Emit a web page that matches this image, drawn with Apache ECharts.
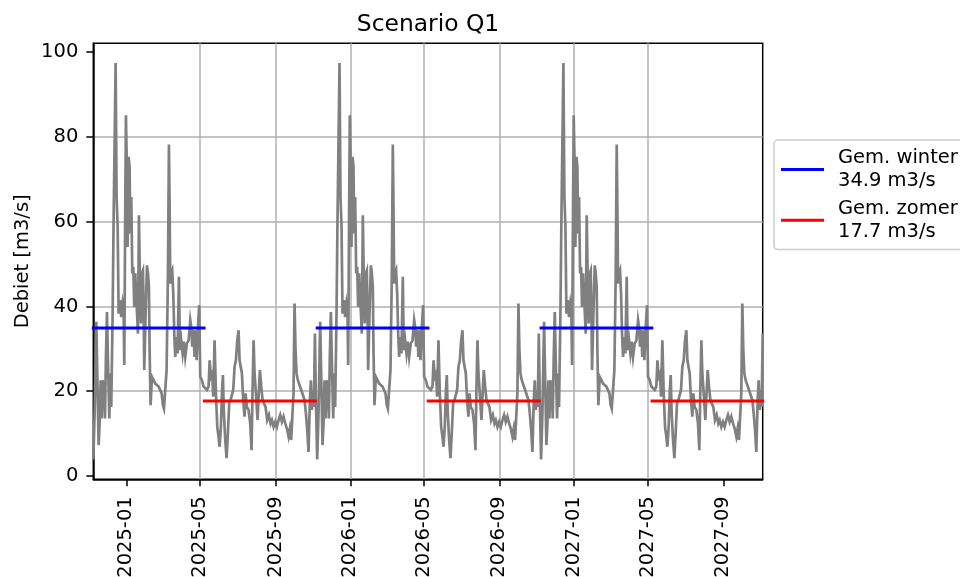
<!DOCTYPE html>
<html>
<head>
<meta charset="utf-8">
<script src="https://cdn.jsdelivr.net/npm/echarts@6/dist/echarts.min.js"></script>
<style>
html,body{margin:0;padding:0;background:#ffffff;}
#chart{width:960px;height:577px;}
</style>
</head>
<body>
<div id="chart"></div>
<script>
// ---------------- data ----------------
const chartTitle = 'Scenario Q1';
const yAxisTitle = 'Debiet [m3/s]';
const recordStart = '2024-11-08';      // first day of the record
const recordLengthDays = 1091.3;       // record length in days
const yearsInRecord = 3;

// one scenario year (repeated each year of the record): day offset and discharge [m3/s]
const dayOffset = [0,2.2,4.9,6.5,8.7,10.3,12,13.6,15.2,17.4,
  19,20.6,22.3,23.9,26.1,27.7,29.3,31.5,33.1,34.8,
  36.4,38,39.7,41.3,43.5,45.6,47.8,49.4,50.5,52.1,
  53.2,54.9,55.9,57.6,59.2,60.3,61.9,63.6,65.2,66.8,
  68.4,70.6,72.8,74.4,76,77.7,79.3,80.9,82,83.1,
  85.3,87.5,89.1,90.7,91.8,93.4,95.6,98.3,101,103.7,
  106.5,109.2,111.4,113.5,115.2,117.3,119.5,121.7,123.3,124.4,
  125.5,127.1,128.7,130.4,132,133.6,135.3,137.4,139.6,141.2,
  143.4,145.6,147.7,149.9,152.6,155.4,158.1,159.7,161.3,163,
  165.1,166.8,168.4,170.6,172.7,174.4,177.1,179.8,182.5,185.2,
  187.9,189.7,191.7,193.9,195.5,197.7,199.9,202.1,204.2,205.9,
  208,209.7,211.3,212.9,215.1,217.3,219.4,221.6,223.8,226,
  228.1,230.3,232.5,234.7,236.8,238.5,240.7,242.3,244.4,246.6,
  248.2,250.4,253.1,255.8,258,259.6,261.3,262.9,265.1,267.8,
  270,271.6,273.8,276,278.1,280.8,283.5,286.3,289,291.2,
  293.9,296.6,299.3,302,304.7,307.4,310.1,312.9,315.6,318.3,
  320.5,322.6,324.8,326.4,328.1,329.7,331.4,333.5,336.2,339,
  341.7,344.4,346.6,348.8,350.9,353.1,354.7,356.4,358,359.6,
  361.3,362.9];
const flow = [3.9,14.8,36.4,24.2,7.3,12.4,22.6,13.6,22.6,20.3,
  13.6,28.1,38.7,27.3,13.6,24.2,16.3,38.3,60.3,79.2,
  97.4,65.8,58.8,38.3,41.5,37.5,40.7,39.1,26.2,63.5,
  85.1,71.3,54,75.3,72.9,57.2,65.8,47.8,49.3,39.9,
  47.8,40.7,33.6,61.5,46.2,36,47.8,48.5,39.9,25,
  38.3,49.7,47.8,44.6,29.7,16.7,23.4,22.6,21.8,22.2,
  21.1,20.7,19.5,16.7,15.9,20.3,25,47.8,78.2,63.5,
  45.4,47.8,48.5,43,33.6,28.1,32.8,28.9,47,29.7,
  32,28.9,31.7,28.1,31.3,32,36.8,35.2,30.5,34.4,
  28.1,34.4,27.3,35.2,40.3,23.4,22.6,21.1,21.4,20.3,
  21.1,27.3,23.4,24.2,18.7,32,19.5,11.6,9.3,6.9,
  11.6,19.5,23.8,14.8,8.5,4.2,10.1,17.1,17.9,17.5,
  20.3,25.8,27.3,32,34.4,27.3,27.3,24.2,17.9,14,
  19.5,16.3,15.6,12.4,6.1,20.3,32,24.2,19.5,13.2,
  20.3,25,21.1,17.9,18.3,16.3,13.2,14.4,12.4,13.2,
  11.6,12.8,11.6,13.2,14.4,12.8,14,12.4,11.2,9.3,
  11.2,8.5,8.9,19.5,40.7,29.7,24.2,22.6,22.2,20.3,
  20.7,17.9,14.8,10.8,5.7,17.9,22.6,15.6,20.3,16.3,
  33.6,17.9];

// seasonal means and the periods they cover (day offsets within a year)
const winterMean = 34.9;
const summerMean = 17.7;
const winterDays = [0, 180.5];
const summerDays = [181, 362];
const summerLeadDays = [0, 1];   // tail of the preceding summer at record start

const xTickLabels = ['2025-01','2025-05','2025-09','2026-01','2026-05','2026-09','2027-01','2027-05','2027-09'];
const yTicks = [0, 20, 40, 60, 80, 100];

// ---------------- build ----------------
const DAY = 86400000;
const t0 = Date.parse(recordStart + 'T00:00:00Z');
const toTime = d => t0 + d * DAY;

const flowData = [];
for (let y = 0; y < yearsInRecord; y++) {
  dayOffset.forEach((d, i) => {
    const dd = d + 365 * y;
    if (dd <= recordLengthDays + 1e-9) flowData.push([toTime(dd), flow[i]]);
  });
}

function seasonData(span, value, lead) {
  const out = [];
  if (lead) out.push([toTime(lead[0]), value], [toTime(lead[1]), value], [toTime(lead[1]), '-']);
  for (let y = 0; y < yearsInRecord; y++) {
    const a = span[0] + 365 * y;
    const b = Math.min(span[1] + 365 * y, recordLengthDays);
    if (a < recordLengthDays) out.push([toTime(a), value], [toTime(b), value], [toTime(b), '-']);
  }
  return out;
}

const winterName = 'Gem. winter\n' + winterMean.toFixed(1) + ' m3/s';
const summerName = 'Gem. zomer\n' + summerMean.toFixed(1) + ' m3/s';

const xTickTimes = xTickLabels.map(s => Date.parse(s + '-01T00:00:00Z'));
function fmtMonth(v) {
  const d = new Date(v);
  return d.getUTCFullYear() + '-' + String(d.getUTCMonth() + 1).padStart(2, '0');
}

const FONT = 'DejaVu Sans';
const chart = echarts.init(document.getElementById('chart'), null, {renderer: 'canvas'});

const gridBox = {left: 93.3, top: 43.3, width: 669.4, height: 436};

chart.setOption({
  animation: false,
  backgroundColor: '#ffffff',
  grid: Object.assign({
    show: true, borderColor: '#000000', borderWidth: 1.5,
    backgroundColor: 'transparent', containLabel: false, outerBoundsMode: 'none'
  }, gridBox),
  graphic: [
    {type: 'text', x: gridBox.left + gridBox.width / 2, y: 25, silent: true,
     style: {text: chartTitle, font: '23.4px "DejaVu Sans"', fill: '#000', align: 'center', verticalAlign: 'middle'}},
    {type: 'text', x: 22.5, y: gridBox.top + gridBox.height / 2, rotation: Math.PI / 2, silent: true,
     style: {text: yAxisTitle, font: '19.5px "DejaVu Sans"', fill: '#000', align: 'center', verticalAlign: 'middle'}}
  ],
  legend: {
    orient: 'vertical', left: 774, top: 140,
    padding: [6, 60, 6, 7],
    itemWidth: 43, itemHeight: 3, itemGap: 4,
    icon: 'rect',
    borderColor: '#cccccc', borderWidth: 1.5, borderRadius: 4,
    backgroundColor: '#ffffff',
    textStyle: {fontFamily: FONT, fontSize: 19.5, lineHeight: 23.4, color: '#000', padding: [0, 0, 0, 9]},
    data: [winterName, summerName],
    selectedMode: false
  },
  xAxis: {
    type: 'value',
    min: toTime(0), max: toTime(recordLengthDays),
    axisLine: {show: true, onZero: false, lineStyle: {color: '#000', width: 1.5}},
    axisTick: {show: true, length: 7, lineStyle: {color: '#000', width: 1.5}, customValues: xTickTimes},
    axisLabel: {customValues: xTickTimes, rotate: 90, margin: 17, fontSize: 19.5, fontFamily: FONT, color: '#000',
                formatter: v => fmtMonth(v), hideOverlap: false},
    splitLine: {show: true, showMinLine: false, showMaxLine: false, lineStyle: {color: '#b0b0b0', width: 1.5}}
  },
  yAxis: {
    type: 'value',
    min: e => e.min - 0.05 * (e.max - e.min),
    max: e => e.max + 0.05 * (e.max - e.min),
    axisLine: {show: true, lineStyle: {color: '#000', width: 1.5}},
    axisTick: {show: true, length: 7, lineStyle: {color: '#000', width: 1.5}, customValues: yTicks},
    axisLabel: {customValues: yTicks, margin: 15, fontSize: 19.5, fontFamily: FONT, color: '#000'},
    splitLine: {show: true, showMinLine: false, showMaxLine: false, lineStyle: {color: '#b0b0b0', width: 1.5}}
  },
  series: [
    {
      name: 'Debiet', type: 'line', data: flowData, showSymbol: false, symbol: 'none',
      z: 2, silent: true,
      lineStyle: {color: '#808080', width: 2.7, join: 'miter'},
      itemStyle: {color: '#808080'}
    },
    {
      name: winterName, type: 'line', data: seasonData(winterDays, winterMean, null),
      showSymbol: false, symbol: 'none', z: 3, silent: true, connectNulls: false,
      color: '#0000ff',
      lineStyle: {color: '#0000ff', width: 3, cap: 'square'},
      itemStyle: {color: '#0000ff'}
    },
    {
      name: summerName, type: 'line', data: seasonData(summerDays, summerMean, summerLeadDays),
      showSymbol: false, symbol: 'none', z: 3, silent: true, connectNulls: false,
      color: '#ff0000',
      lineStyle: {color: '#ff0000', width: 3, cap: 'square'},
      itemStyle: {color: '#ff0000'}
    }
  ]
});
</script>
</body>
</html>
